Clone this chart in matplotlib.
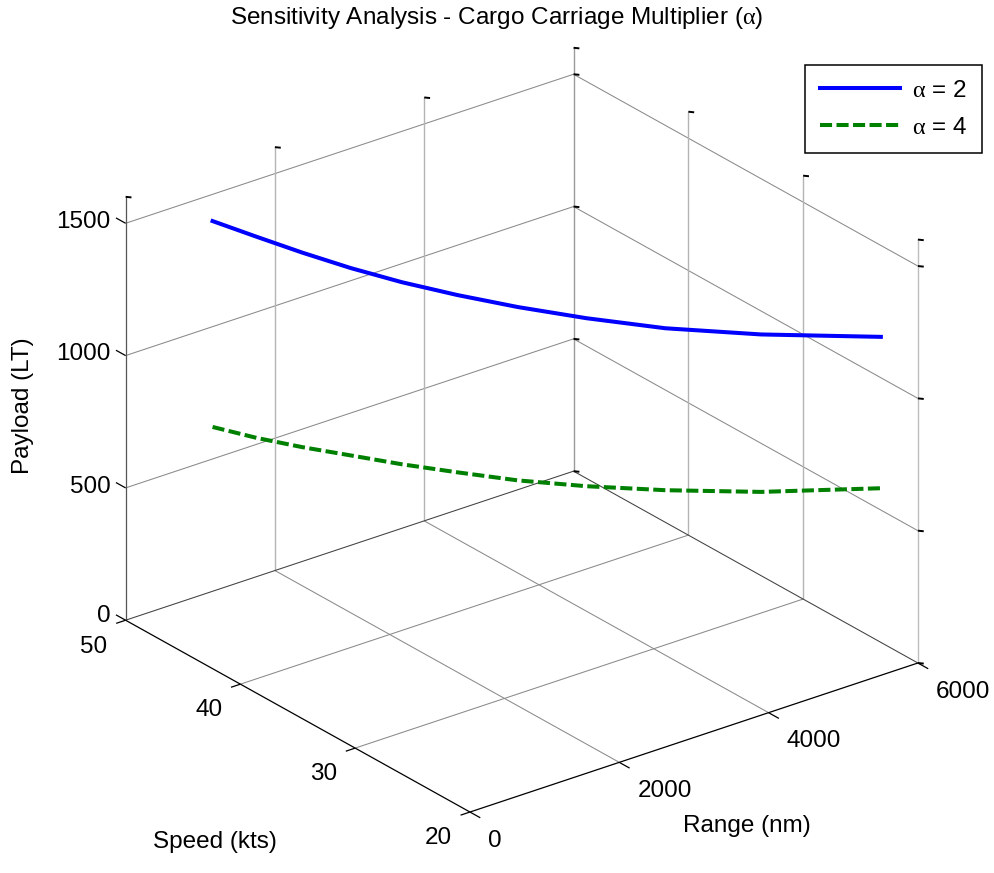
import numpy as np
import matplotlib
matplotlib.use("Agg")
import matplotlib.pyplot as plt
from matplotlib.transforms import offset_copy

# ---------------- data ----------------
speed_kts = [50, 47, 44, 41, 38, 35, 32, 29, 26, 23, 20]
range_nm = [1165, 1294, 1447, 1632, 1856, 2135, 2486, 2939, 3539, 4360, 5504]
payload_alpha2 = [1399, 1400, 1398, 1395, 1393, 1391, 1385, 1373, 1351, 1323, 1279]
payload_alpha4 = [621, 640, 663, 687, 705, 721, 730, 738, 739, 728, 707]
series_labels = [r"$\mathrm{\alpha}$ = 2", r"$\mathrm{\alpha}$ = 4"]
series_colors = ["#0000ff", "#008000"]

range_ticks = [0, 2000, 4000, 6000]
speed_ticks = [20, 30, 40, 50]
payload_ticks = [0, 500, 1000, 1500]
range_lim = (0, 6000)
speed_lim = (20, 50)
payload_lim = (0, 1600)

title_text = r"Sensitivity Analysis - Cargo Carriage Multiplier ($\mathrm{\alpha}$)"
xlabel_text = "Range (nm)"
ylabel_text = "Speed (kts)"
zlabel_text = "Payload (LT)"

# ---------------- figure ----------------
W, H = 995, 873
plt.rcParams["font.family"] = ["Liberation Sans", "DejaVu Sans"]
plt.rcParams["mathtext.fontset"] = "custom"
plt.rcParams["mathtext.rm"] = "Liberation Serif"
plt.rcParams["mathtext.it"] = "Liberation Serif:italic"
plt.rcParams["mathtext.bf"] = "Liberation Serif:bold"
FS = 17.5

fig = plt.figure(figsize=(W / 100, H / 100), dpi=100)
fig.patch.set_facecolor("white")
ax = fig.add_axes([0.1, 0.05, 0.8, 0.9], projection="3d", proj_type="ortho")
ax.computed_zorder = False
ax.set_xlim(*range_lim)
ax.set_ylim(*speed_lim)
ax.set_zlim(*payload_lim)
ax.set_box_aspect((566, 563, 469))
ax.view_init(elev=25.5, azim=-127.7)
ax.set_axis_off()

r0, r1 = range_lim
s0, s1 = speed_lim
z0, z1 = payload_lim

GRID = "#8a8a8a"
VGRID = "#b4b4b4"


def seg(p0, p1, color, lw=0.75, z=1):
    ax.plot([p0[0], p1[0]], [p0[1], p1[1]], [p0[2], p1[2]],
            color=color, lw=lw, zorder=z, solid_capstyle="butt")


# floor grid
for r in range_ticks:
    if r0 < r < r1:
        seg((r, s0, z0), (r, s1, z0), GRID)
for s in speed_ticks:
    if s0 < s < s1:
        seg((r0, s, z0), (r1, s, z0), GRID)
# back walls
for zz in payload_ticks:
    if zz > z0:
        seg((r0, s1, zz), (r1, s1, zz), GRID)
        seg((r1, s1, zz), (r1, s0, zz), GRID)
for r in range_ticks:
    if r0 < r < r1:
        seg((r, s1, z0), (r, s1, z1), VGRID, lw=1.0)
for s in speed_ticks:
    if s0 < s < s1:
        seg((r1, s, z0), (r1, s, z1), VGRID, lw=1.0)
# edges
seg((r1, s1, z0), (r1, s1, z1), "#9a9a9a", lw=1.0)
seg((r1, s0, z0), (r1, s0, z1), "#bdbdbd", lw=1.0)
seg((r0, s1, z0), (r0, s1, z1), "#555555", lw=0.9)
seg((r0, s1, z0), (r1, s1, z0), "#404040")
seg((r1, s1, z0), (r1, s0, z0), "#404040")
seg((r0, s0, z0), (r1, s0, z0), "#000000", lw=0.9)
seg((r0, s0, z0), (r0, s1, z0), "#000000", lw=0.9)

# tick marks
dr = (r1 - r0) * 0.021
ds = (s1 - s0) * 0.03
dzs = (s1 - s0) * 0.028
for r in range_ticks:
    seg((r, s0, z0), (r, s0 - ds, z0), "k", lw=0.9)
for s in speed_ticks:
    seg((r0, s, z0), (r0 - dr, s, z0), "k", lw=0.9)
for zz in payload_ticks:
    seg((r0, s1, zz), (r0, s1 + dzs, zz), "k", lw=0.9)
tr = (r1 - r0) * 0.0067
ts = (s1 - s0) * 0.0083
tops = [(r, s1) for r in range_ticks] + [(r1, s) for s in speed_ticks if s < s1]
for (r, s) in tops:
    seg((r, s, z1), (r + tr, s - ts, z1), "k", lw=1.4)
for zz in payload_ticks:
    for (r, s) in [(r1, s1), (r1, s0)]:
        seg((r, s, zz), (r + tr, s - ts, zz), "k", lw=1.4)

# data series
l1, = ax.plot(range_nm, speed_kts, payload_alpha2, color=series_colors[0],
              lw=2.9, zorder=5, label=series_labels[0])
l2, = ax.plot(range_nm, speed_kts, payload_alpha4, color=series_colors[1],
              lw=2.9, ls=(0, (3.0, 1.1)), zorder=5, label=series_labels[1])


# ---------------- fit the projected box to the reference layout ----------------
def proj2d(xs, ys, zs):
    M = ax.get_proj()
    xs = np.atleast_1d(np.asarray(xs, float))
    ys = np.atleast_1d(np.asarray(ys, float))
    zs = np.atleast_1d(np.asarray(zs, float))
    v = np.vstack([xs, ys, zs, np.ones_like(xs)])
    p = M @ v
    return np.column_stack([p[0] / p[3], p[1] / p[3]])


fit_pts = [((r0, s0, z0), (469, 812)), ((r1, s0, z0), (917, 663)),
           ((r0, s1, z0), (125, 620)), ((r1, s1, z0), (576, 471)),
           ((r1, s1, 1500), (575, 74)), ((r1, s0, 1500), (917, 268)),
           ((r0, s1, 1500), (125, 222))]
fig.canvas.draw()
P = proj2d([p[0][0] for p in fit_pts], [p[0][1] for p in fit_pts], [p[0][2] for p in fit_pts])
C = ax.transData.transform(P)
T = np.array([[q[1][0], H - q[1][1]] for q in fit_pts], float)
cm, tm = C.mean(0), T.mean(0)
k = ((C - cm) * (T - tm)).sum() / ((C - cm) ** 2).sum()
t = tm - k * cm
bb = ax.get_position()
x0p, y0p, wp, hp = bb.x0 * W, bb.y0 * H, bb.width * W, bb.height * H
nx0, ny0 = k * x0p + t[0], k * y0p + t[1]
ax.set_position([nx0 / W, ny0 / H, k * wp / W, k * hp / H])
fig.canvas.draw()


# ---------------- text ----------------
def label_at(x, y, z, s, dx, dy, **kw):
    p = proj2d([x], [y], [z])[0]
    tr_ = offset_copy(ax.transData, fig=fig, x=dx, y=dy, units="dots")
    ax.text2D(p[0], p[1], s, transform=tr_, fontsize=FS, **kw)


for r in range_ticks:
    label_at(r, s0, z0, f"{r}", 18, -28.8, ha="left", va="center")
for s in speed_ticks:
    label_at(r0, s, z0, f"{s}", -18, -26.3, ha="right", va="center")
for zz in payload_ticks:
    label_at(r0, s1, zz, f"{zz}", -15, 4.7 if zz == z0 else 1.2, ha="right", va="center")

label_at((r0 + r1) / 2, s0, z0, xlabel_text, 53, -88.5, ha="center", va="center")
label_at(r0, (s0 + s1) / 2, z0, ylabel_text, -83, -126, ha="center", va="center")
label_at(r0, s1, (z0 + z1) / 2, zlabel_text, -103, 3, ha="center", va="center",
         rotation=90)

fig.text(497 / W, 1 - 18 / H, title_text, ha="center", va="center", fontsize=FS)

leg = fig.legend(handles=[l1, l2], labels=series_labels, loc="upper left",
                 bbox_to_anchor=(805 / W, 1 - 65 / H), bbox_transform=fig.transFigure,
                 borderaxespad=0, fontsize=FS, handlelength=3.3, handletextpad=0.5,
                 borderpad=0.6, labelspacing=0.62, fancybox=False, framealpha=1,
                 edgecolor="black")
leg.get_frame().set_linewidth(1.1)

fig.savefig("out.png", dpi=100, facecolor="white")
